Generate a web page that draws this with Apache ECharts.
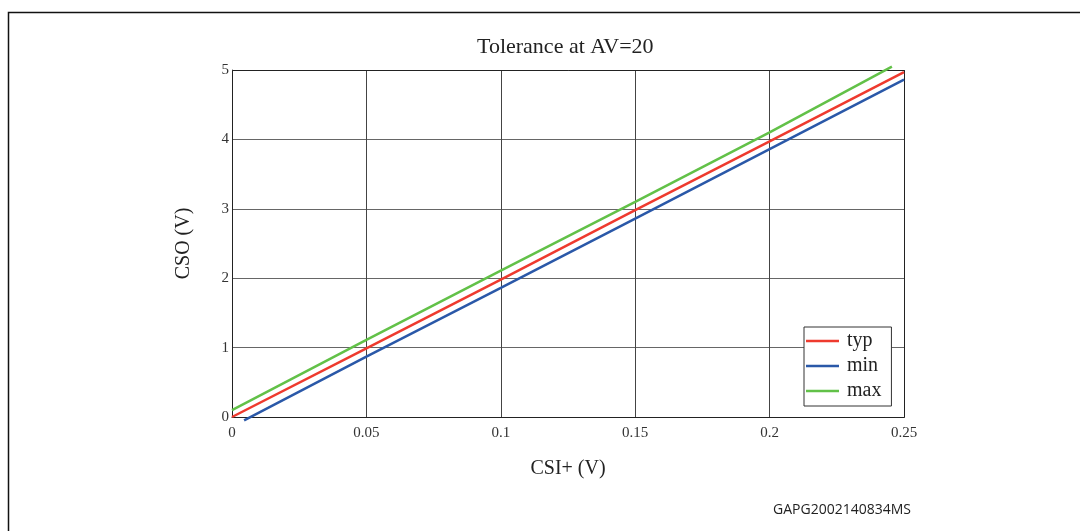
<!DOCTYPE html>
<html>
<head>
<meta charset="utf-8">
<script src="https://cdn.jsdelivr.net/npm/echarts@6/dist/echarts.min.js"></script>
<style>
  html, body { margin: 0; padding: 0; background: #fff; }
  #chart { width: 1080px; height: 531px; }
</style>
</head>
<body>
<div id="chart"></div>
<script>
// values
const seriesNames = ['typ', 'min', 'max'];
const typX = [0, 0.05, 0.1, 0.15, 0.2, 0.25];
const typY = [0, 0.99, 1.98, 2.98, 3.97, 4.97];
const minX = [0.0045, 0.05, 0.1, 0.15, 0.2, 0.25];
const minY = [-0.05, 0.87, 1.86, 2.86, 3.86, 4.86];
const maxX = [0, 0.05, 0.1, 0.15, 0.2, 0.2455];
const maxY = [0.1, 1.11, 2.11, 3.1, 4.1, 5.05];
const colors = ['#ee3a2e', '#2a58a8', '#62c148'];

const SERIF = '"Liberation Serif", "DejaVu Serif", serif';

function pairs(xs, ys) {
  return xs.map((x, i) => [x, ys[i]]);
}

const chart = echarts.init(document.getElementById('chart'), null, { renderer: 'canvas' });

const lines = [pairs(typX, typY), pairs(minX, minY), pairs(maxX, maxY)];

chart.setOption({
  animation: false,
  color: colors,
  title: {
    text: 'Tolerance at AV=20',
    left: 472,
    top: 31,
    textStyle: { fontFamily: SERIF, fontSize: 22, fontWeight: 'normal', color: '#222' }
  },
  grid: { left: 232, right: 176, top: 70, bottom: 114 },
  legend: {
    data: seriesNames,
    orient: 'vertical',
    left: 804,
    top: 327,
    padding: [4, 10, 5, 2],
    icon: 'rect',
    itemWidth: 33,
    itemHeight: 2.5,
    itemGap: 5,
    backgroundColor: '#fff',
    borderColor: '#333',
    borderWidth: 1,
    borderRadius: 0,
    textStyle: { fontFamily: SERIF, fontSize: 20, color: '#222', lineHeight: 20, padding: [0, 0, 0, 3] }
  },
  xAxis: {
    type: 'value',
    min: 0,
    max: 0.25,
    interval: 0.05,
    name: 'CSI+ (V)',
    nameLocation: 'middle',
    nameGap: 42,
    nameTextStyle: { fontFamily: SERIF, fontSize: 20, color: '#222' },
    axisLine: { show: true, lineStyle: { color: '#222', width: 1 } },
    axisTick: { show: false },
    axisLabel: { fontFamily: SERIF, fontSize: 15, color: '#333', margin: 9 },
    splitLine: { show: true, lineStyle: { color: '#444', width: 1 } }
  },
  yAxis: {
    type: 'value',
    min: 0,
    max: 5,
    interval: 1,
    name: 'CSO (V)',
    nameLocation: 'middle',
    nameGap: 38,
    nameTextStyle: { fontFamily: SERIF, fontSize: 20, color: '#222' },
    axisLine: { show: true, lineStyle: { color: '#555', width: 1 } },
    axisTick: { show: false },
    axisLabel: { fontFamily: SERIF, fontSize: 15, color: '#333', margin: 3 },
    splitLine: { show: true, lineStyle: { color: '#666', width: 1 } }
  },
  graphic: [
    {
      type: 'rect',
      shape: { x: 8.5, y: 12.5, width: 1100, height: 600 },
      style: { fill: 'none', stroke: '#111', lineWidth: 1.5 },
      silent: true
    },
    {
      type: 'rect',
      shape: { x: 232.5, y: 70.5, width: 672, height: 347 },
      style: { fill: 'none', stroke: '#222', lineWidth: 1 },
      silent: true,
      z: 1
    },
    {
      type: 'text',
      left: 773,
      top: 503,
      style: {
        text: 'GAPG2002140834MS',
        font: '14px "Open Sans", "Liberation Sans", sans-serif',
        fill: '#222'
      }
    }
  ],
  series: seriesNames.map((name, i) => ({
    name: name,
    type: 'line',
    data: lines[i],
    symbol: 'none',
    clip: false,
    itemStyle: { color: colors[i] },
    lineStyle: { width: 2.5, color: colors[i] },
    z: 3
  }))
});
</script>
</body>
</html>
